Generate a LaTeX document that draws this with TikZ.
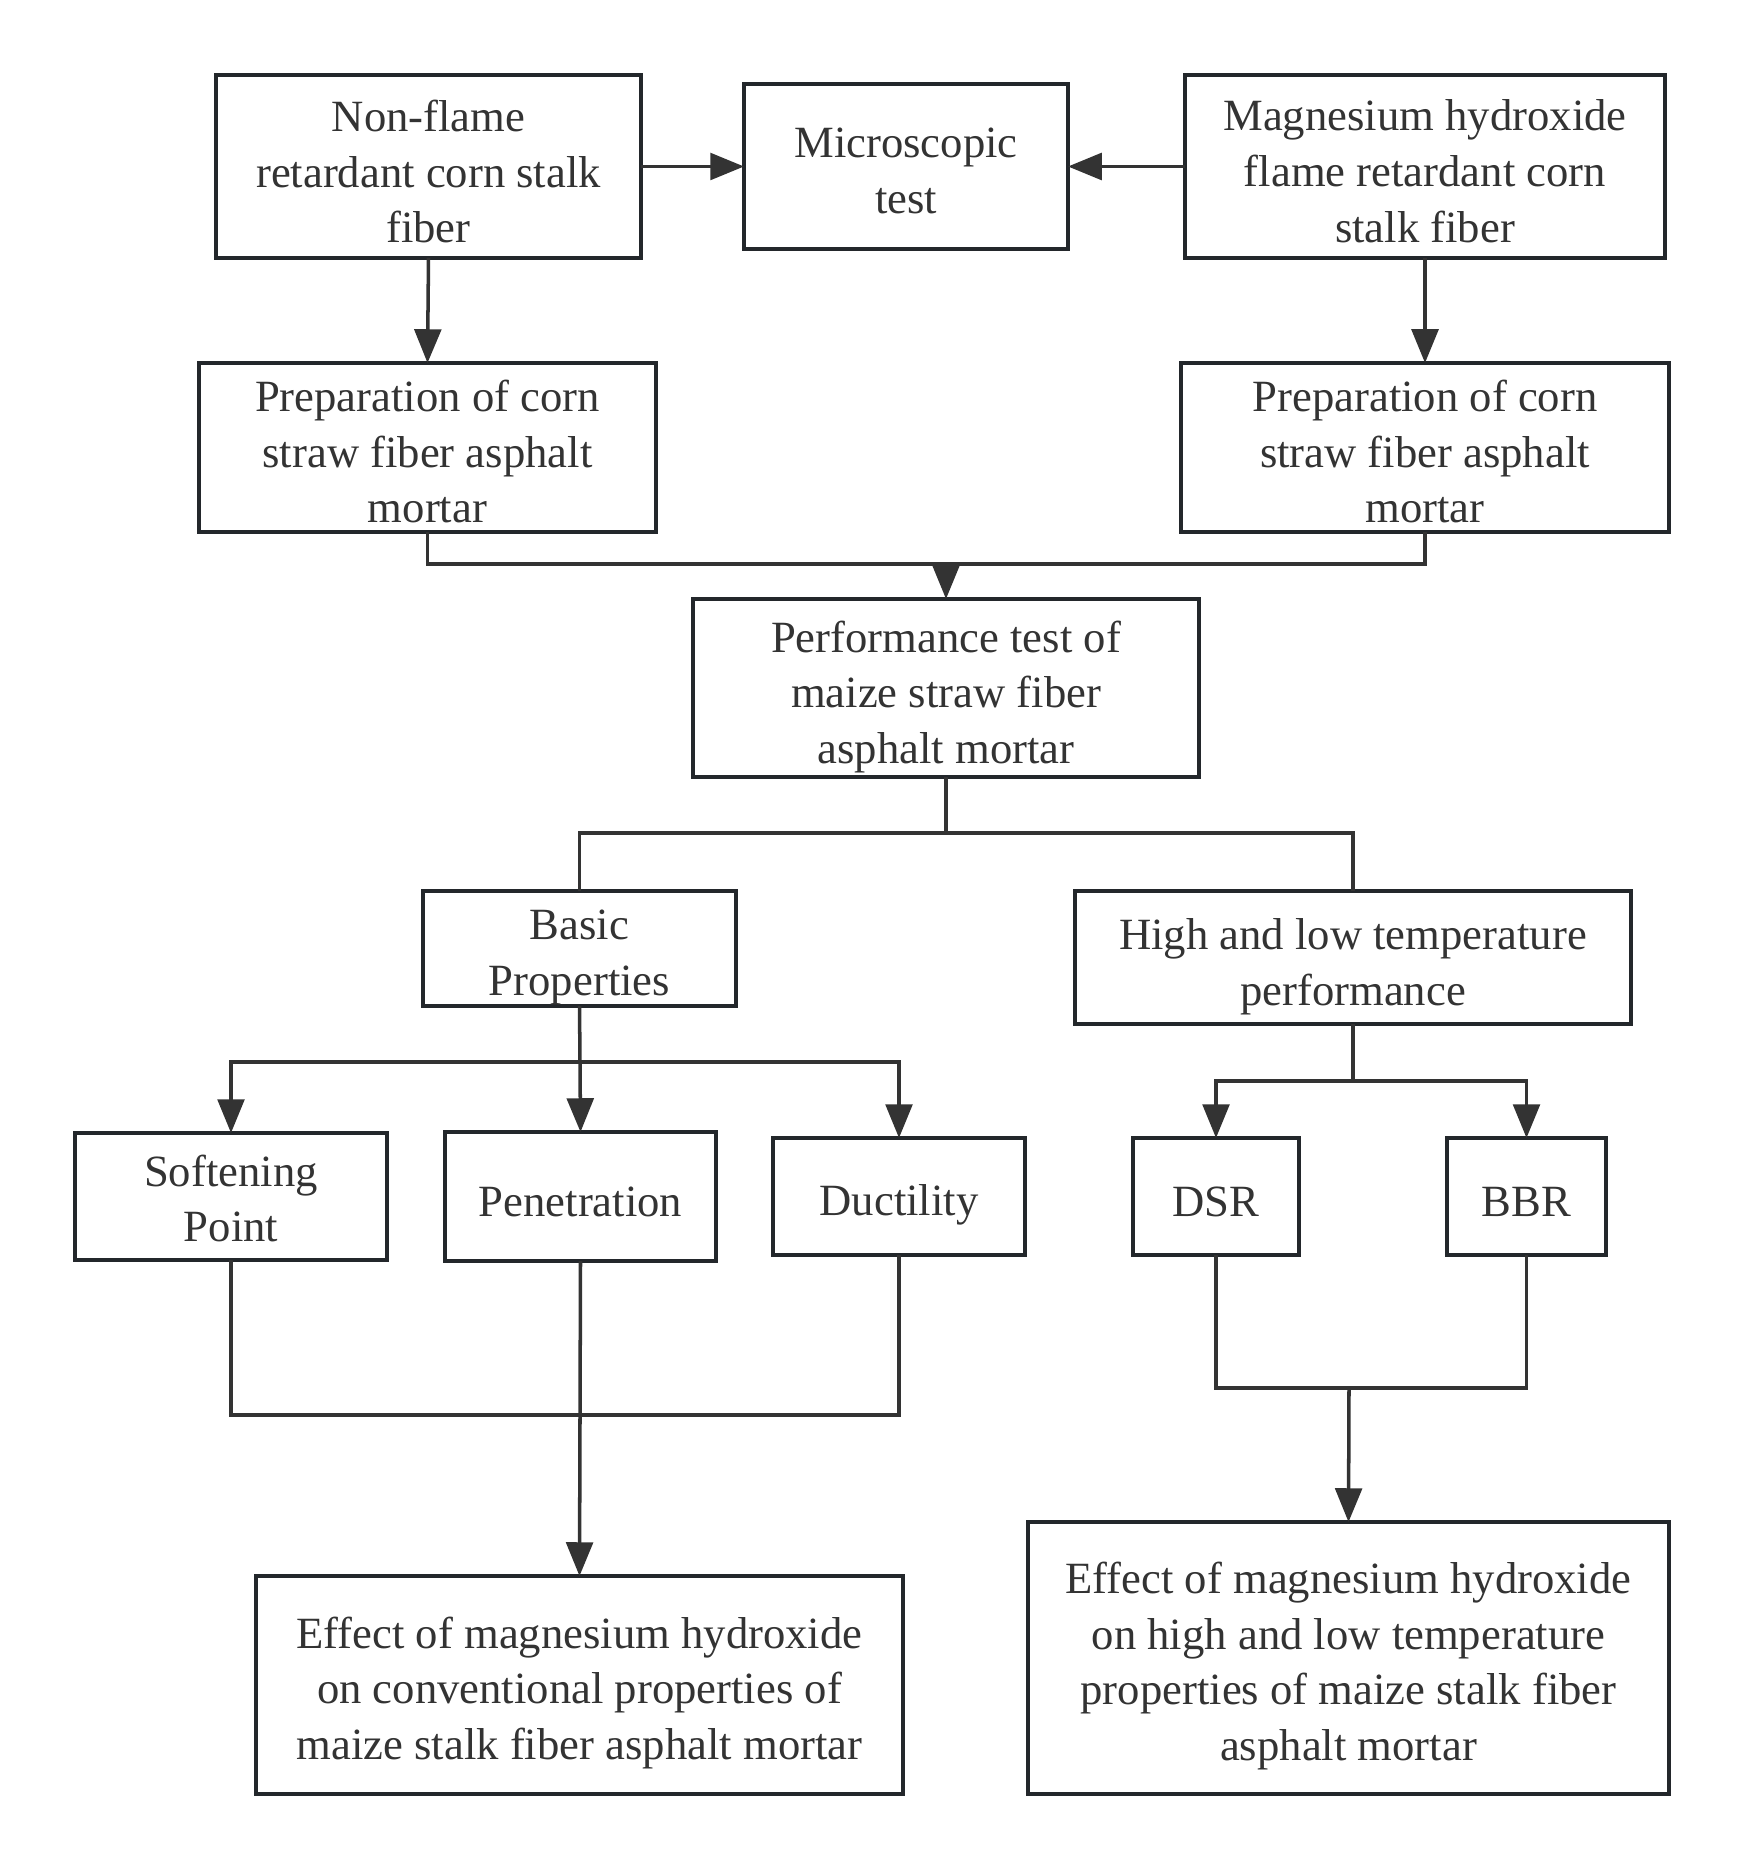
\documentclass[tikz,border=0pt]{standalone}
\usepackage{fontspec}
\setmainfont{Liberation Serif}
\usetikzlibrary{arrows.meta}
\definecolor{ink}{HTML}{333333}
\definecolor{frame}{HTML}{23272B}
\begin{document}
\begin{tikzpicture}[x=0.01cm,y=-0.01cm,
  box/.style={draw=frame,line width=1pt,rectangle,inner sep=0pt,outer sep=0pt},
  txt/.style={align=center,text=ink,inner sep=0pt,font=\fontsize{12.7}{15.9}\selectfont},
  sz/.style 2 args={minimum width=#1*0.01cm,minimum height=#2*0.01cm},
  link/.style={draw=ink,line width=1pt},
  arr/.style={link,-{Triangle[length=9.6pt,width=7.6pt]}}]
\useasboundingbox (0,0) rectangle (1744,1870);
% frames
\node[box,sz={425}{183}] (nonflame) at (428.5,166.5) {};
\node[box,sz={324}{165}] (micro) at (906,166.5) {};
\node[box,sz={480}{183}] (mg) at (1425,166.5) {};
\node[box,sz={457}{169}] (prepL) at (427.5,447.5) {};
\node[box,sz={488}{169}] (prepR) at (1425,447.5) {};
\node[box,sz={506}{178}] (perf) at (946,688) {};
\node[box,sz={313}{115}] (basic) at (579.5,948.5) {};
\node[box,sz={556}{133}] (high) at (1353,957.5) {};
\node[box,sz={312}{127}] (soft) at (231,1196.5) {};
\node[box,sz={271}{129}] (pen) at (580.5,1196.5) {};
\node[box,sz={252}{117}] (duct) at (899,1196.5) {};
\node[box,sz={166}{117}] (dsr) at (1216,1196.5) {};
\node[box,sz={159}{117}] (bbr) at (1526.5,1196.5) {};
\node[box,sz={647}{218}] (effL) at (579.5,1685) {};
\node[box,sz={641}{272}] (effR) at (1348.5,1658) {};
% labels
\node[txt] (nonflameT) at ([yshift=-0.05cm]nonflame.center) {Non-flame\\retardant corn stalk\\fiber};
\node[txt] (microT) at ([yshift=-0.04cm]micro.center) {Microscopic\\test};
\node[txt] (mgT) at ([yshift=-0.05cm]mg.center) {Magnesium hydroxide\\flame retardant corn\\stalk fiber};
\node[txt] (prepLT) at ([yshift=-0.04cm]prepL.center) {Preparation of corn\\straw fiber asphalt\\mortar};
\node[txt] (prepRT) at ([yshift=-0.04cm]prepR.center) {Preparation of corn\\straw fiber asphalt\\mortar};
\node[txt] (perfT) at ([yshift=-0.09cm]perf.center) {Performance test of\\maize straw fiber\\asphalt mortar};
\node[txt] (basicT) at ([yshift=-0.09cm]basic.center) {Basic\\Properties};
\node[txt] (highT) at ([yshift=-0.09cm]high.center) {High and low temperature\\performance};
\node[txt] (softT) at ([yshift=-0.02cm]soft.center) {Softening\\Point};
\node[txt] (penT) at ([yshift=-0.05cm]pen.center) {Penetration};
\node[txt] (ductT) at ([yshift=-0.08cm]duct.center) {Ductility};
\node[txt] (dsrT) at ([yshift=-0.05cm]dsr.center) {DSR};
\node[txt] (bbrT) at ([yshift=-0.05cm]bbr.center) {BBR};
\node[txt] (effLT) at ([yshift=-0.08cm]effL.center) {Effect of magnesium hydroxide\\on conventional properties of\\maize stalk fiber asphalt mortar};
\node[txt] (effRT) at ([yshift=-0.08cm]effR.center) {Effect of magnesium hydroxide\\on high and low temperature\\properties of maize stalk fiber\\asphalt mortar};
% junction points
\coordinate (jPrep) at (946,564);
\coordinate (jPerf) at (946,833);
\coordinate (jBasic) at (580,1062);
\coordinate (jHigh) at (1353,1081);
\coordinate (jLow) at (580,1415);
\coordinate (jRight) at (1349,1388);
% connectors
\draw[arr] (nonflame.east) -- (micro.west);
\draw[arr] (mg.west) -- (micro.east);
\draw[arr] (nonflame.south) -- (prepL.north);
\draw[arr] (mg.south) -- (prepR.north);
\draw[link] (prepL.south) |- (jPrep) -| (prepR.south);
\draw[arr] (jPrep) -- (perf.north);
\draw[link] (perf.south) -- (jPerf);
\draw[link] (basic.north) |- (jPerf) -| (high.north);
\draw[link] (basic.south) -- (jBasic);
\draw[arr] (jBasic) -| (soft.north);
\draw[arr] (jBasic) -- (pen.north);
\draw[arr] (jBasic) -| (duct.north);
\draw[link] (high.south) -- (jHigh);
\draw[arr] (jHigh) -| (dsr.north);
\draw[arr] (jHigh) -| (bbr.north);
\draw[link] (soft.south) |- (jLow) -| (duct.south);
\draw[arr] (pen.south) -- (effL.north);
\draw[link] (dsr.south) |- (jRight) -| (bbr.south);
\draw[arr] (jRight) -- (effR.north);
\end{tikzpicture}
\end{document}
